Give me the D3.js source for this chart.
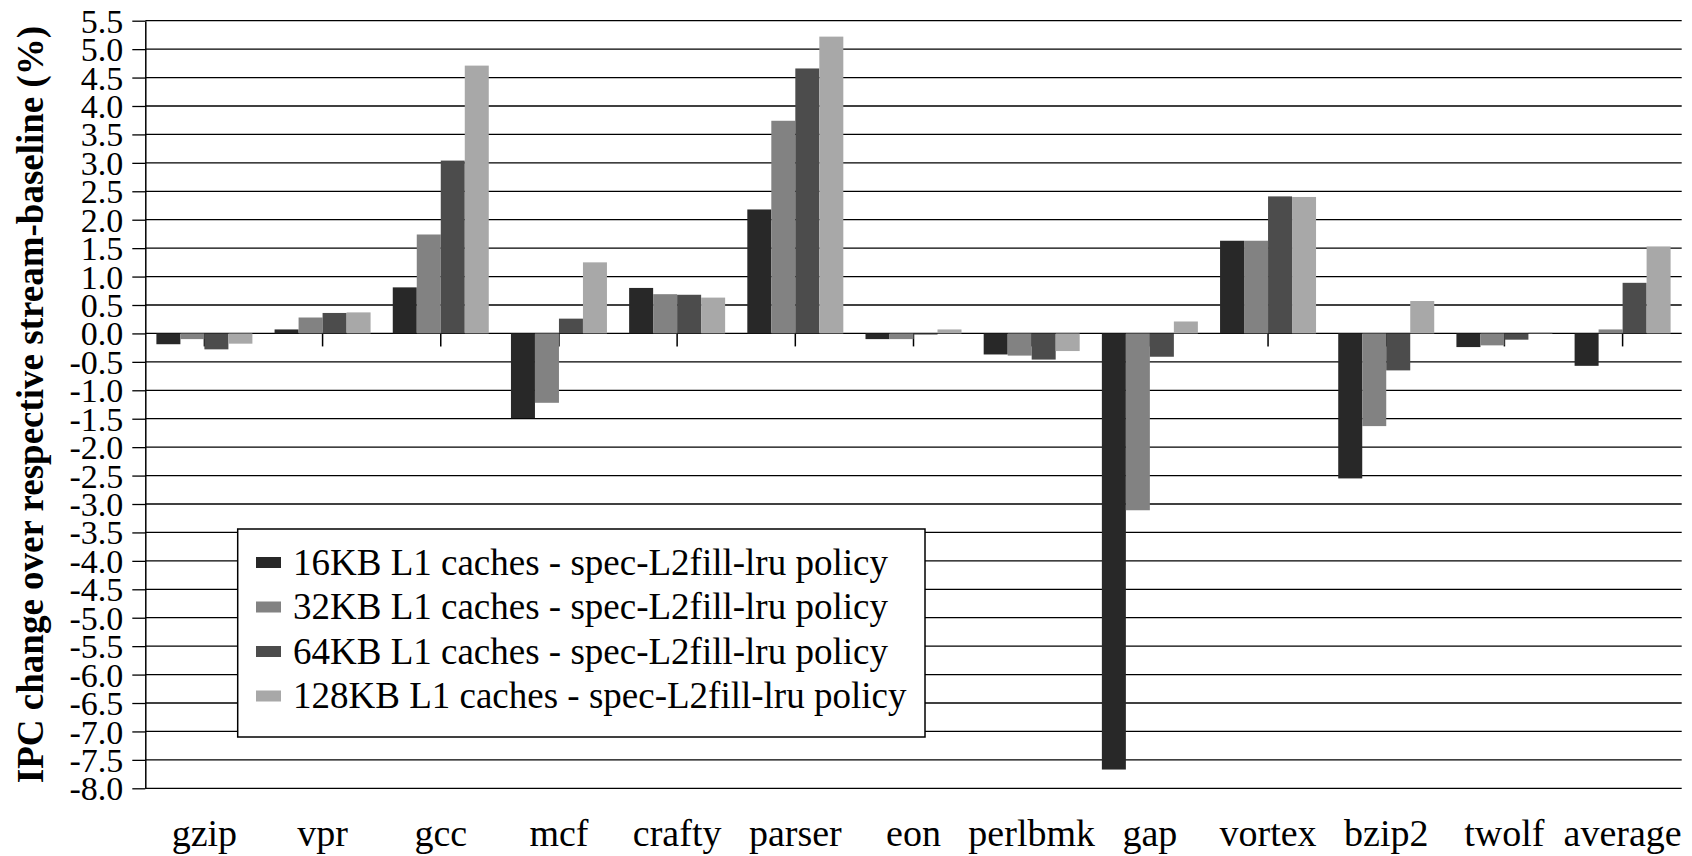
<!DOCTYPE html>
<html>
<head>
<meta charset="utf-8">
<script src="https://cdn.jsdelivr.net/npm/d3@7"></script>
<style>
  html, body { margin: 0; padding: 0; background: #fff; }
  svg { display: block; font-family: "Liberation Serif", "Times New Roman", serif; }
</style>
</head>
<body>
<svg id="chart" width="1692" height="856"></svg>
<script>
// Benchmarks along the x axis
const categories = ["gzip", "vpr", "gcc", "mcf", "crafty", "parser", "eon",
  "perlbmk", "gap", "vortex", "bzip2", "twolf", "average"];

// Series names (legend entries)
const seriesNames = [
  "16KB L1 caches - spec-L2fill-lru policy",
  "32KB L1 caches - spec-L2fill-lru policy",
  "64KB L1 caches - spec-L2fill-lru policy",
  "128KB L1 caches - spec-L2fill-lru policy"
];

// IPC change (%) per benchmark, one array per L1 cache size
const ipc16KB  = [-0.19, 0.07, 0.81, -1.49, 0.80, 2.18, -0.10, -0.37, -7.67, 1.63, -2.55, -0.24, -0.57];
const ipc32KB  = [-0.10, 0.28, 1.74, -1.22, 0.69, 3.74, -0.10, -0.39, -3.11, 1.63, -1.63, -0.21, 0.07];
const ipc64KB  = [-0.28, 0.36, 3.04, 0.26, 0.68, 4.66, -0.02, -0.46, -0.41, 2.41, -0.65, -0.11, 0.89];
const ipc128KB = [-0.18, 0.37, 4.71, 1.25, 0.63, 5.22, 0.07, -0.31, 0.21, 2.40, 0.57, 0.02, 1.53];

// Y axis tick values
const yTicks = [5.5, 5.0, 4.5, 4.0, 3.5, 3.0, 2.5, 2.0, 1.5, 1.0, 0.5, 0.0,
  -0.5, -1.0, -1.5, -2.0, -2.5, -3.0, -3.5, -4.0, -4.5, -5.0, -5.5, -6.0,
  -6.5, -7.0, -7.5, -8.0];

const yTitle = "IPC change over respective stream-baseline (%)";

const seriesValues = [ipc16KB, ipc32KB, ipc64KB, ipc128KB];
const colors = ["#282828", "#828282", "#4c4c4c", "#a8a8a8"];

const svg = d3.select("#chart");

const plot = { left: 145.3, right: 1681.7, top: 20.7, bottom: 788.3 };

const y = d3.scaleLinear().domain([-8, 5.5]).range([plot.bottom, plot.top]);

const x0 = d3.scaleBand()
  .domain(categories)
  .range([plot.left, plot.right])
  .paddingInner(0.1877)
  .paddingOuter(0.0939);

const x1 = d3.scaleBand()
  .domain(d3.range(seriesNames.length))
  .range([0, x0.bandwidth()]);

const color = d3.scaleOrdinal().domain(d3.range(seriesNames.length)).range(colors);

// Horizontal gridlines
svg.append("g")
  .selectAll("line")
  .data(yTicks)
  .join("line")
  .attr("x1", plot.left)
  .attr("x2", plot.right)
  .attr("y1", d => y(d))
  .attr("y2", d => y(d))
  .attr("stroke", "#000")
  .attr("stroke-width", 1.3);

// Category ticks on the zero line, labels at the bottom
const y0 = y(0);
const xAxis = svg.append("g")
  .attr("transform", `translate(0,${y0})`)
  .call(d3.axisBottom(x0).tickSize(13).tickSizeOuter(0));
xAxis.attr("font-family", null);
xAxis.select(".domain").remove();
xAxis.selectAll(".tick line").attr("stroke", "#000").attr("stroke-width", 1.5);
xAxis.selectAll(".tick text")
  .attr("y", 846 - y0)
  .attr("dy", null)
  .attr("fill", "#000")
  .style("font-size", "38px")
  .style("font-family", "'Liberation Serif', serif");

// Bars
const rows = categories.map((c, i) => ({ cat: c, vals: seriesValues.map(s => s[i]) }));
svg.append("g")
  .selectAll("g")
  .data(rows)
  .join("g")
  .attr("transform", d => `translate(${x0(d.cat)},0)`)
  .selectAll("rect")
  .data(d => d.vals.map((v, k) => ({ k, v })))
  .join("rect")
  .attr("x", d => x1(d.k))
  .attr("width", x1.bandwidth())
  .attr("y", d => y(Math.max(0, d.v)))
  .attr("height", d => Math.abs(y(d.v) - y(0)))
  .attr("fill", d => color(d.k));

// Y axis
const yAxis = svg.append("g")
  .attr("transform", `translate(${plot.left},0)`)
  .call(d3.axisLeft(y).tickValues(yTicks).tickSize(13).tickSizeOuter(0)
    .tickFormat(d => d.toFixed(1)));
yAxis.attr("font-family", null);
yAxis.select(".domain").attr("stroke", "#000").attr("stroke-width", 1.5);
yAxis.selectAll(".tick line").attr("stroke", "#000").attr("stroke-width", 1.3);
yAxis.selectAll(".tick text")
  .attr("x", -22)
  .attr("dy", "0.34em")
  .attr("fill", "#000")
  .style("font-size", "34px")
  .style("font-family", "'Liberation Serif', serif");

// Y axis title
svg.append("text")
  .attr("transform", `translate(43,${(plot.top + plot.bottom) / 2}) rotate(-90)`)
  .attr("text-anchor", "middle")
  .style("font-size", "37px")
  .style("font-weight", "bold")
  .text(yTitle);

// Legend
const legend = svg.append("g");
legend.append("rect")
  .attr("x", 237.7).attr("y", 529)
  .attr("width", 925 - 237.7).attr("height", 737 - 529)
  .attr("fill", "#fff")
  .attr("stroke", "#000")
  .attr("stroke-width", 1.5);
const items = legend.selectAll("g.item")
  .data(seriesNames)
  .join("g")
  .attr("class", "item")
  .attr("transform", (d, i) => `translate(256,${562.5 + i * 44.5})`);
items.append("rect")
  .attr("x", 0).attr("y", -5.5)
  .attr("width", 25).attr("height", 11)
  .attr("fill", (d, i) => color(i));
items.append("text")
  .attr("x", 37)
  .attr("y", 12)
  .style("font-size", "37px")
  .text(d => d);
</script>
</body>
</html>
